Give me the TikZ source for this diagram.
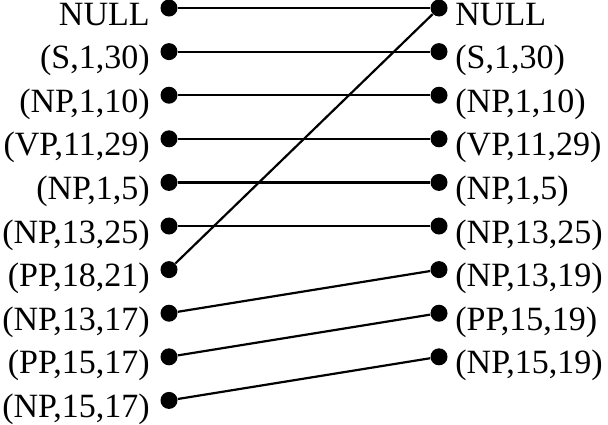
\documentclass[tikz,border=0pt]{standalone}
\usepackage{fontspec}
\setmainfont{Liberation Serif}
\usepackage{tikz}

\tikzset{dot/.style={circle,fill=black,inner sep=0pt,minimum size=8.5pt},
  lt/.style={anchor=base east,inner sep=0pt,font=\fontsize{17}{19}\selectfont},
  rt/.style={anchor=base west,inner sep=0pt,font=\fontsize{17}{19}\selectfont}}

\begin{document}
\begin{tikzpicture}[x=0.5pt,y=-0.5pt]
    \useasboundingbox (0,0) rectangle (608,424);
    % left column
    \foreach \i/\t in {1/NULL,2/{(S,1,30)},3/{(NP,1,10)},4/{(VP,11,29)},5/{(NP,1,5)},
        6/{(NP,13,25)},7/{(PP,18,21)},8/{(NP,13,17)},9/{(PP,15,17)},10/{(NP,15,17)}} {
      \node[dot] (l\i) at (169,{8+43.6*(\i-1)}) {};
      \node[lt] (lt\i) at (150,{25+43.6*(\i-1)}) {\t};
    }
    % right column
    \foreach \i/\t in {1/NULL,2/{(S,1,30)},3/{(NP,1,10)},4/{(VP,11,29)},5/{(NP,1,5)},
        6/{(NP,13,25)},7/{(NP,13,19)},8/{(PP,15,19)},9/{(NP,15,19)}} {
      \node[dot] (r\i) at (439,{8+43.6*(\i-1)}) {};
      \node[rt] (rt\i) at (455,{25+43.6*(\i-1)}) {\t};
    }
    \draw[line width=1.1pt] (l1) -- (r1);
    \draw[line width=1.1pt] (l7) -- (r1);
    \foreach \i in {2,...,6} {
      \draw[line width=1.1pt] (l\i) -- (r\i);
    }
    \draw[line width=1.1pt] (l8) -- (r7);
    \draw[line width=1.1pt] (l9) -- (r8);
    \draw[line width=1.1pt] (l10) -- (r9);
  \end{tikzpicture}
\end{document}
